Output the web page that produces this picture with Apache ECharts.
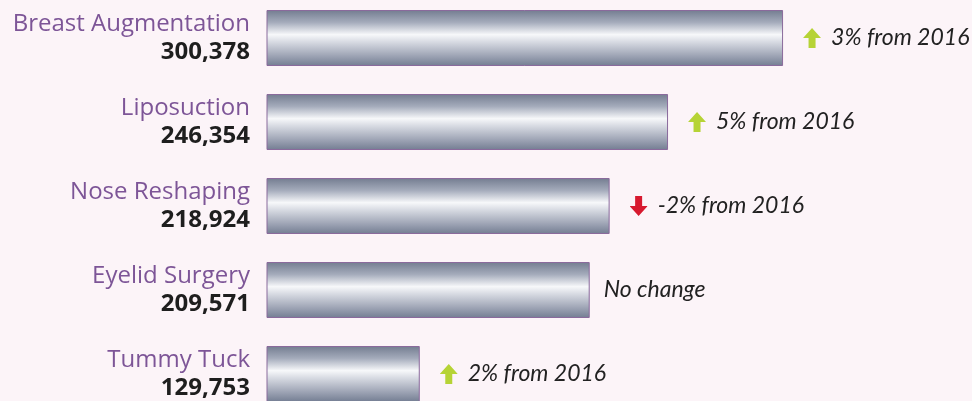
<!DOCTYPE html>
<html lang="en" style="height: 100%">
<head>
  <meta charset="UTF-8">
  <title>Top procedures</title>
</head>
<body style="height: 100%; margin: 0">
<div id="container" style="width: 972px; height: 401px; background-color: #fcf4f8"></div>
<script type="text/javascript" src="https://cdn.jsdelivr.net/npm/echarts@6/dist/echarts.min.js"></script>
<script type="text/javascript">
  // data
  var procedures = ['Breast Augmentation', 'Liposuction', 'Nose Reshaping', 'Eyelid Surgery', 'Tummy Tuck'];
  var counts = [300378, 246354, 218924, 209571, 129753];
  var changes = [3, 5, -2, 0, 2];

  var upArrow = 'data:image/svg+xml;utf8,' + encodeURIComponent(
    '<svg xmlns="http://www.w3.org/2000/svg" width="18" height="20" viewBox="0 0 18 20">' +
    '<path d="M9 0 L18 10 L12.5 10 L12.5 20 L5.5 20 L5.5 10 L0 10 Z" fill="#b6d336"/></svg>');
  var downArrow = 'data:image/svg+xml;utf8,' + encodeURIComponent(
    '<svg xmlns="http://www.w3.org/2000/svg" width="18" height="20" viewBox="0 0 18 20">' +
    '<path d="M9 20 L18 10 L12.5 10 L12.5 0 L5.5 0 L5.5 10 L0 10 Z" fill="#d7192f"/></svg>');

  function fmt(n) {
    return n.toString().replace(/\B(?=(\d{3})+(?!\d))/g, ',');
  }

  var dom = document.getElementById('container');
  var myChart = echarts.init(dom, null, { renderer: 'canvas' });

  var barData = counts.map(function (v, i) {
    var item = { value: v };
    // "No change" sits closer to its bar than the arrow labels
    if (changes[i] === 0) item.label = { distance: 14 };
    return item;
  });

  var option = {
    backgroundColor: '#fcf4f8',
    animation: false,
    grid: { left: 267, width: 643, top: -4, height: 420, outerBoundsMode: 'none', containLabel: false },
    xAxis: {
      type: 'value',
      min: 58000,
      max: 360000,
      show: false
    },
    yAxis: {
      type: 'category',
      inverse: true,
      data: procedures,
      axisLine: { show: false },
      axisTick: { show: false },
      splitLine: { show: false },
      axisLabel: {
        margin: 17,
        align: 'right',
        formatter: function (val, idx) {
          return '{n|' + val + '}\n{v|' + fmt(counts[idx]) + '}';
        },
        rich: {
          n: { fontFamily: 'Open Sans', fontSize: 24, color: '#7d5597', align: 'right', lineHeight: 28 },
          v: { fontFamily: 'Open Sans', fontSize: 24, fontWeight: 'bold', color: '#1e1e1e', align: 'right', lineHeight: 28 }
        }
      }
    },
    series: [
      {
        type: 'bar',
        data: barData,
        barWidth: 56,
        itemStyle: {
          borderColor: '#8a6a9c',
          borderWidth: 1,
          color: new echarts.graphic.LinearGradient(0, 0, 0, 1, [
            { offset: 0, color: '#737c90' },
            { offset: 0.22, color: '#a4abbb' },
            { offset: 0.44, color: '#f7f8fa' },
            { offset: 0.55, color: '#dcdfe6' },
            { offset: 0.8, color: '#a2a8b8' },
            { offset: 1, color: '#737d92' }
          ])
        },
        label: {
          show: true,
          position: 'right',
          distance: 20,
          formatter: function (p) {
            var c = changes[p.dataIndex];
            if (c === 0) return '{nc|No change}';
            return (c > 0 ? '{up|}' : '{dn|}') + '{t|' + c + '% from 2016}';
          },
          rich: {
            up: { width: 18, height: 20, backgroundColor: { image: upArrow } },
            dn: { width: 18, height: 20, backgroundColor: { image: downArrow } },
            t: { fontFamily: 'Lato', fontStyle: 'italic', fontSize: 23, color: '#222222', padding: [0, 0, 0, 10] },
            nc: { fontFamily: 'Lato', fontStyle: 'italic', fontSize: 23, color: '#222222' }
          }
        }
      }
    ]
  };

  myChart.setOption(option);
  window.addEventListener('resize', myChart.resize);
</script>
</body>
</html>
